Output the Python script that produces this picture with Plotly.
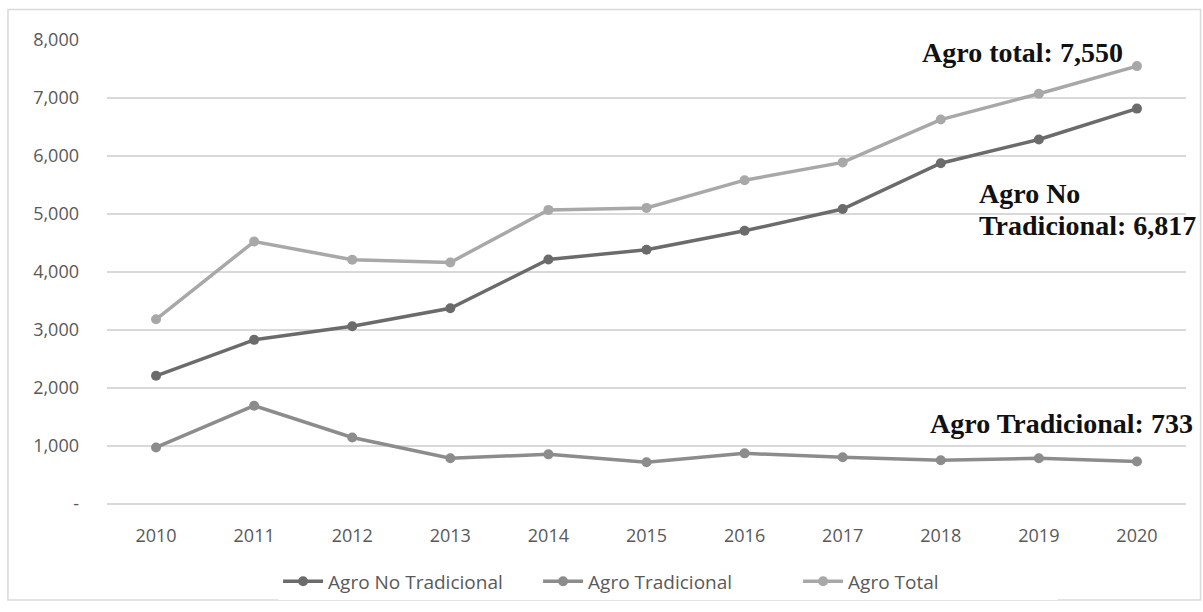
import plotly.graph_objects as go

years = ["2010", "2011", "2012", "2013", "2014", "2015", "2016", "2017", "2018", "2019", "2020"]
agro_no_tradicional = [2210, 2830, 3065, 3375, 4215, 4385, 4710, 5085, 5875, 6285, 6817]
agro_tradicional = [975, 1695, 1147, 790, 856, 720, 873, 805, 753, 788, 733]
agro_total = [3185, 4525, 4212, 4165, 5071, 5105, 5583, 5890, 6628, 7073, 7550]

y_ticks = [0, 1000, 2000, 3000, 4000, 5000, 6000, 7000, 8000]
y_tick_text = ["-", "1,000", "2,000", "3,000", "4,000", "5,000", "6,000", "7,000", "8,000"]

series = [
    ("Agro No Tradicional", agro_no_tradicional, "#6b6b6b"),
    ("Agro Tradicional", agro_tradicional, "#8c8c8c"),
    ("Agro Total", agro_total, "#a8a8a8"),
]

fig = go.Figure()
for name, vals, color in series:
    fig.add_trace(go.Scatter(
        x=years, y=vals, name=name, mode="lines+markers",
        line=dict(color=color, width=3.5),
        marker=dict(color=color, size=10),
    ))

last = len(years) - 1
label_font = dict(family="Liberation Serif, Times New Roman, serif", size=28, color="#111111")


def end_label(text, value, xanchor, xshift, yshift):
    fig.add_annotation(x=last, y=value, text=f"<b>{text}</b>", showarrow=False,
                       xanchor=xanchor, yanchor="bottom", xshift=xshift, yshift=yshift,
                       font=label_font)


end_label(f"Agro total: {agro_total[-1]:,}", agro_total[-1], "right", -12, -4)
end_label("Agro No", agro_no_tradicional[-1], "left", -160, -102)
end_label(f"Tradicional: {agro_no_tradicional[-1]:,}", agro_no_tradicional[-1], "left", -160, -134)
end_label(f"Agro Tradicional: {agro_tradicional[-1]}", agro_tradicional[-1], "left", -209, 20)

# outer chart frame
fig.add_shape(type="rect", xref="paper", yref="paper", x0=-0.0918, x1=1.0135, y0=-0.207, y1=1.066,
              line=dict(color="#d9d9d9", width=1.5), fillcolor="rgba(0,0,0,0)", layer="below")

fig.update_layout(
    width=1203, height=612,
    margin=dict(l=107, r=17, t=40, b=105),
    paper_bgcolor="white", plot_bgcolor="white",
    font=dict(family="Open Sans, Noto Sans, sans-serif", size=18, color="#595959"),
    showlegend=True,
    legend=dict(orientation="h", x=0.52, xanchor="center", y=-0.167, yanchor="middle",
                font=dict(size=19, color="#595959"), itemwidth=40,
                entrywidth=205, entrywidthmode="pixels"),
)
fig.update_xaxes(type="category", range=[-0.5, last + 0.5], showgrid=False, showline=False,
                 ticks="", tickfont=dict(size=18, color="#595959"), ticklabelstandoff=19)
fig.update_yaxes(range=[0, 8000], tickvals=y_ticks, ticktext=y_tick_text,
                 showgrid=True, gridcolor="#d9d9d9", gridwidth=1.5,
                 zeroline=True, zerolinecolor="#d9d9d9", zerolinewidth=1.5,
                 showline=False, ticks="", ticklabelstandoff=27,
                 tickfont=dict(size=18, color="#595959"))

fig.write_html("out.html")
